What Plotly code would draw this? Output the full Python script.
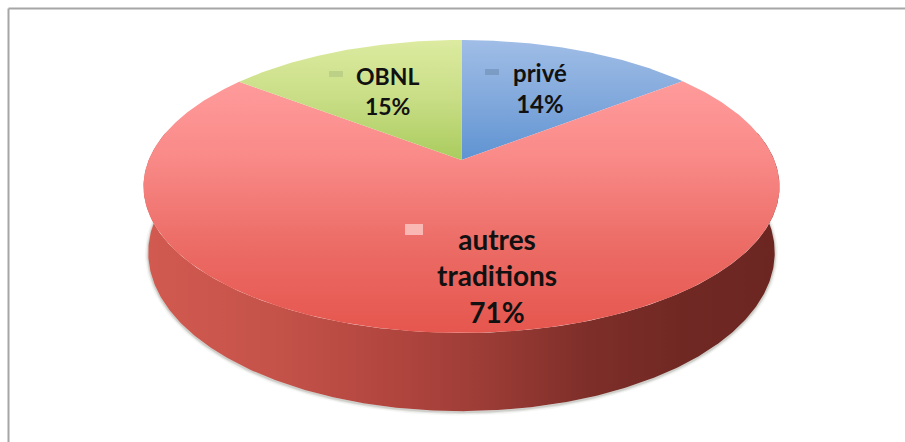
import numpy as np
import plotly.graph_objects as go

categories = ["privé", "autres<br>traditions", "OBNL"]
shares = [14.4, 71.1, 14.5]
pct_labels = ["14%", "71%", "15%"]

W, H = 905, 442
CX, AY = 461.5, 160.0       # apex of the slices
BACK, FRONT = 120.0, 173.0  # perspective radii along the vertical axis
XR = 318.0
DEPTH = 64.0

b = 2 / (1 / BACK + 1 / FRONT)
k = b / BACK - 1
a = XR * np.sqrt(1 - k * k)


def disk(theta):
    w = 1 + k * np.cos(theta)
    return CX + a * np.sin(theta) / w, AY - b * np.cos(theta) / w


def lower(theta):
    w = 1 + k * np.cos(theta)
    x, y = disk(theta)
    return CX + (x - CX) * 0.985, y + DEPTH / w


def arc(t0, t1, step=0.01):
    return np.linspace(t0, t1, max(int(abs(t1 - t0) / step), 2))


edges = np.cumsum([0] + shares) / sum(shares) * 2 * np.pi

top_scales = [
    [[0, "#5E93D2"], [0.5, "#82A9DC"], [1, "#A0BDE6"]],
    [[0, "#E5564E"], [0.35, "#EC6C66"], [0.7, "#F98A88"], [1, "#FF9B9B"]],
    [[0, "#A9CC5E"], [0.5, "#C8DD85"], [1, "#DCEBA0"]],
]

fig = go.Figure()

# soft shadow along the lower contour of the wall
sx, sy = lower(arc(np.pi / 2 - 0.1, 3 * np.pi / 2 + 0.1))
for width, alpha in [(7, 0.05), (4, 0.09), (2, 0.14)]:
    fig.add_trace(go.Scatter(
        x=sx, y=sy + 1, mode="lines",
        line=dict(color=f"rgba(70,70,50,{alpha})", width=width),
        hoverinfo="skip", showlegend=False))

# side wall of the disk
theta_side = arc(np.pi / 2 - 0.2, 3 * np.pi / 2 + 0.2)
ux, uy = disk(theta_side)
lx_, ly_ = lower(theta_side)
fig.add_trace(go.Scatter(
    x=np.concatenate([ux, lx_[::-1]]), y=np.concatenate([uy, ly_[::-1]]),
    mode="lines", fill="toself",
    line=dict(width=0, color="rgba(0,0,0,0)"),
    fillgradient=dict(type="horizontal", colorscale=[
        [0, "#D25A50"], [0.2, "#C5534A"], [0.4, "#B0453E"], [0.55, "#9A3B35"],
        [0.7, "#7E2E29"], [0.85, "#702823"], [1, "#6C2622"]]),
    hoverinfo="skip", showlegend=False))

# top faces, one per share
for i, scale in enumerate(top_scales):
    px, py = disk(arc(edges[i], edges[i + 1]))
    fig.add_trace(go.Scatter(
        x=np.concatenate([[CX], px, [CX]]),
        y=np.concatenate([[AY], py, [AY]]),
        mode="lines", fill="toself",
        line=dict(width=0, color="rgba(0,0,0,0)"),
        fillgradient=dict(type="vertical", colorscale=scale),
        hoverinfo="skip", showlegend=False))

# labels and their small keys
label_xy = [(540, 88), (497, 275), (387, 91)]
label_size = [24, 28, 23]
key_box = [(485, 69, 499, 75), (405, 224, 423, 235), (329, 71, 343, 77)]
key_col = ["#7898C0", "#FBC4C2", "#B9CC85"]
shapes = [
    dict(type="line", xref="x", yref="y", x0=8.5, y0=8.5, x1=905, y1=8.5,
         line=dict(color="#A6A6A6", width=2)),
    dict(type="line", xref="x", yref="y", x0=8.5, y0=8.5, x1=8.5, y1=442,
         line=dict(color="#A6A6A6", width=2)),
]
for cat, pct, (lx, ly), size, box, col in zip(categories, pct_labels, label_xy, label_size, key_box, key_col):
    fig.add_annotation(
        x=lx, y=ly, text=f"<b>{cat}<br>{pct}</b>", showarrow=False,
        xref="x", yref="y", align="center",
        font=dict(family="Lato", size=size, color="#111111"))
    shapes.append(dict(type="rect", xref="x", yref="y", x0=box[0], y0=box[1], x1=box[2], y1=box[3],
                       fillcolor=col, opacity=0.85, line=dict(width=0), layer="above"))

fig.update_layout(
    width=W, height=H, margin=dict(l=0, r=0, t=0, b=0),
    paper_bgcolor="white", plot_bgcolor="white", showlegend=False,
    xaxis=dict(range=[0, W], visible=False, fixedrange=True),
    yaxis=dict(range=[H, 0], visible=False, fixedrange=True),
    shapes=shapes,
)
fig.write_html("out.html", config={"displayModeBar": False},
               post_script="document.body.style.margin='0';document.documentElement.style.overflow='hidden';")
